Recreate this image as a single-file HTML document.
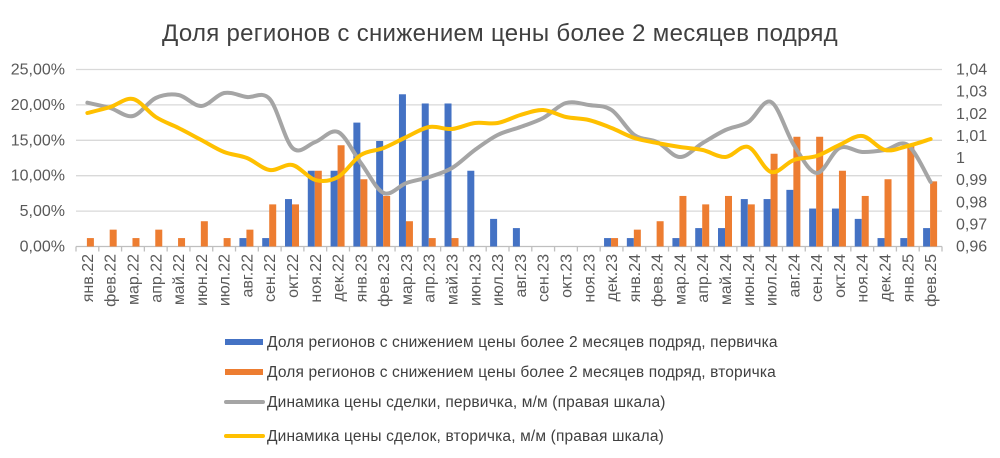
<!DOCTYPE html>
<html><head><meta charset="utf-8"><style>
body{margin:0;background:#fff;}
svg{display:block;font-family:"Liberation Sans","DejaVu Sans",sans-serif;}
</style></head><body>
<svg id="s" width="1000" height="458" viewBox="0 0 1000 458" xmlns="http://www.w3.org/2000/svg">
<text x="500" y="41" text-anchor="middle" font-size="24" letter-spacing="0.3" fill="#404040">Доля регионов с снижением цены более 2 месяцев подряд</text>
<g id="grid" stroke="#d9d9d9" stroke-width="1.3"></g>
<g id="bars"></g>
<g id="lines" fill="none" stroke-linecap="round" stroke-linejoin="round"></g>
<g id="labels" font-size="16" fill="#595959"></g>
<g font-size="15.5" fill="#404040" letter-spacing="0.15">
<rect x="225" y="339" width="38" height="6" fill="#4472c4"/>
<text x="267" y="347">Доля регионов с снижением цены более 2 месяцев подряд, первичка</text>
<rect x="225" y="369" width="38" height="6" fill="#ed7d31"/>
<text x="267" y="377">Доля регионов с снижением цены более 2 месяцев подряд, вторичка</text>
<line x1="226" y1="402" x2="263" y2="402" stroke="#a5a5a5" stroke-width="4" stroke-linecap="round"/>
<text x="267" y="407">Динамика цены сделки, первичка, м/м (правая шкала)</text>
<line x1="226" y1="436" x2="263" y2="436" stroke="#ffc000" stroke-width="4" stroke-linecap="round"/>
<text x="267" y="441">Динамика цены сделок, вторичка, м/м (правая шкала)</text>
</g>
</svg>
<script>
var L=76,W=866,N=38,cw=W/N,y0=246.5,yT=69.5;
function yp(v){return y0-(y0-yT)*v/25;}
var ns="http://www.w3.org/2000/svg";
function el(p,t,a,txt){var e=document.createElementNS(ns,t);for(var k in a)e.setAttribute(k,a[k]);if(txt!=null)e.textContent=txt;document.getElementById(p).appendChild(e);return e;}
var rl=["0,96","0,97","0,98","0,99","1","1,01","1,02","1,03","1,04"];
for(var i=0;i<=5;i++){var y=yp(i*5);el("grid","line",{x1:L,x2:L+W,y1:y,y2:y,stroke:i==0?"#bfbfbf":"#d9d9d9"});
el("labels","text",{x:65,y:y+5,"text-anchor":"end"},(i*5)+",00%");}
for(var i=0;i<9;i++){var y=y0-(y0-yT)*i/8;el("labels","text",{x:956,y:y+5},rl[i]);}
for(var i=0;i<=N;i++){var x=L+i*cw;el("grid","line",{x1:x,x2:x,y1:y0,y2:y0+5,stroke:"#bfbfbf"});}
var m=["янв","фев","мар","апр","май","июн","июл","авг","сен","окт","ноя","дек"];
var blue=[0,0,0,0,0,0,0,1.19,1.19,6.7,10.7,10.7,17.5,14.9,21.5,20.2,20.2,10.7,3.9,2.6,0,0,0,1.19,1.19,0,1.19,2.6,2.6,6.7,6.7,8.0,5.36,5.36,3.9,1.19,1.19,2.6];
var or=[1.19,2.38,1.19,2.38,1.19,3.57,1.19,2.38,5.95,5.95,10.7,14.3,9.5,7.14,3.57,1.19,1.19,0,0,0,0,0,0,1.19,2.38,3.57,7.14,5.95,7.14,5.95,13.1,15.5,15.5,10.7,7.14,9.5,14.3,9.2];
for(var i=0;i<N;i++){var c=L+cw*(i+0.5);
var lab=m[i%12]+"."+(22+Math.floor(i/12));
el("labels","text",{x:0,y:0,"text-anchor":"end",transform:"translate("+(c+5.5)+",254) rotate(-90)"},lab);
if(blue[i]>0)el("bars","rect",{x:c-7.5,y:yp(blue[i]),width:7,height:y0-yp(blue[i]),fill:"#4472c4"});
if(or[i]>0)el("bars","rect",{x:c-0.5,y:yp(or[i]),width:7,height:y0-yp(or[i]),fill:"#ed7d31"});}
var grey=[102.7,108,116,98,95,106,93,97,99,148,142,132,163,193,183,177,168,150,135,127,118,103,105,110,135,142,157,143,130,122,102,145,173,148,152,150,145,182];
var yel=[113,107,99,117,128,140,152,158,170,165,180,177,155,148,137,127,129,123,123,115,110,117,120,128,138,143,147,150,157,147,172,160,156,145,136,150,146,139];
function path(a){var p=a.map(function(v,i){return [L+cw*(i+0.5),v];});var d="M"+p[0][0]+","+p[0][1];
for(var i=0;i<p.length-1;i++){var p0=p[i-1]||p[i],p1=p[i],p2=p[i+1],p3=p[i+2]||p2;
d+=" C"+(p1[0]+(p2[0]-p0[0])/6)+","+(p1[1]+(p2[1]-p0[1])/6)+" "+(p2[0]-(p3[0]-p1[0])/6)+","+(p2[1]-(p3[1]-p1[1])/6)+" "+p2[0]+","+p2[1];}return d;}
el("lines","path",{d:path(grey),stroke:"#a5a5a5","stroke-width":4});
el("lines","path",{d:path(yel),stroke:"#ffc000","stroke-width":4});
</script>
</body></html>
